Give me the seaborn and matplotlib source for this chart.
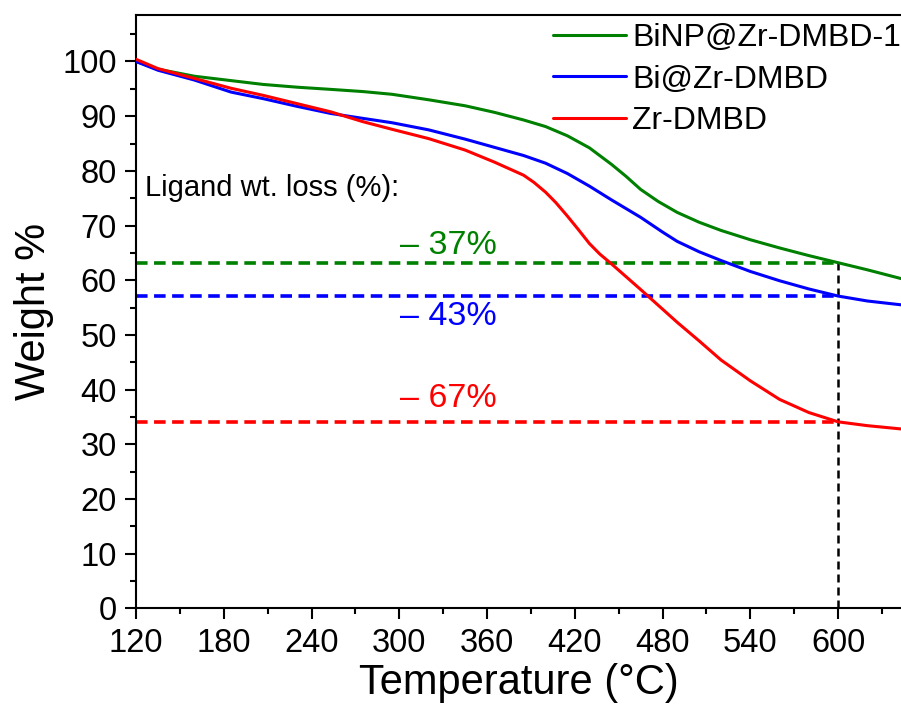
import numpy as np
import pandas as pd
import matplotlib
matplotlib.use("Agg")
import matplotlib.pyplot as plt
from matplotlib.ticker import MultipleLocator
import seaborn as sns

# ---- data ----
t_binp = [120, 135, 160, 185, 207, 230, 253, 275, 295, 320, 345, 365, 385, 400,
          415, 430, 445, 455, 465, 477, 490, 505, 520, 540, 560, 580, 600, 620, 643]
w_binp = [100.0, 98.6, 97.3, 96.5, 95.8, 95.3, 94.9, 94.5, 94.0, 93.0, 91.9, 90.7,
          89.3, 88.1, 86.4, 84.2, 81.2, 79.0, 76.6, 74.4, 72.4, 70.6, 69.1, 67.4,
          65.9, 64.5, 63.2, 61.9, 60.3]
t_bi = [120, 135, 160, 185, 207, 230, 253, 275, 295, 320, 345, 365, 385, 400,
        415, 430, 445, 465, 480, 490, 505, 520, 540, 560, 580, 600, 620, 643]
w_bi = [100.0, 98.4, 96.6, 94.4, 93.2, 91.8, 90.5, 89.6, 88.8, 87.5, 85.8, 84.3,
        82.8, 81.4, 79.5, 77.2, 74.7, 71.5, 68.8, 67.1, 65.2, 63.6, 61.6, 59.9,
        58.4, 57.1, 56.2, 55.5]
t_zr = [120, 135, 160, 185, 207, 230, 253, 275, 295, 320, 345, 365, 385, 392, 400,
        407, 415, 422, 430, 437, 445, 465, 490, 505, 520, 540, 560, 580, 600, 620, 643]
w_zr = [100.4, 98.7, 96.9, 95.1, 93.8, 92.3, 90.8, 89.0, 87.6, 85.9, 83.8, 81.6,
        79.2, 77.9, 76.1, 74.2, 71.7, 69.4, 66.7, 64.8, 63.0, 58.3, 52.3, 48.9,
        45.4, 41.6, 38.2, 35.8, 34.1, 33.4, 32.8]
series_names = ["BiNP@Zr-DMBD-1", "Bi@Zr-DMBD", "Zr-DMBD"]
series_colors = ["#008000", "#0000FF", "#FF0000"]
residual_levels = [63.1, 57.1, 34.1]
loss_labels = ["\u2013 37%", "\u2013 43%", "\u2013 67%"]
loss_label_y = [66.4, 53.3, 38.4]
ref_temp = 600
x_ticks = [120, 180, 240, 300, 360, 420, 480, 540, 600]
y_ticks = [0, 10, 20, 30, 40, 50, 60, 70, 80, 90, 100]

df = pd.concat([
    pd.DataFrame({"T": t, "W": w, "sample": name})
    for t, w, name in zip([t_binp, t_bi, t_zr], [w_binp, w_bi, w_zr], series_names)
], ignore_index=True)

sns.set_theme(style="ticks")
plt.rcParams["font.family"] = ["Liberation Sans", "DejaVu Sans"]
plt.rcParams["text.color"] = "black"
plt.rcParams["axes.labelcolor"] = "black"

fig = plt.figure(figsize=(9.01, 7.15), dpi=100)
ax = fig.add_axes([136 / 901, 1 - 608.3 / 715, (901 - 136) / 901, (608.3 - 15) / 715])

# reference lines
for lvl, col in zip(residual_levels, series_colors):
    ax.plot([x_ticks[0], ref_temp], [lvl, lvl], color=col, lw=2.6,
            dashes=(3.2, 1.8), zorder=1)
ax.plot([ref_temp, ref_temp], [0, residual_levels[0]], color="black", lw=1.8,
        dashes=(3.2, 2.0), zorder=1)

sns.lineplot(data=df, x="T", y="W", hue="sample", hue_order=series_names,
             palette=series_colors, linewidth=2.2, sort=False, estimator=None,
             ax=ax, zorder=3)

ax.set_xlim(120, 643)
ax.set_ylim(0, 108.5)
ax.set_xticks(x_ticks)
ax.set_yticks(y_ticks)
ax.xaxis.set_minor_locator(MultipleLocator(30))
ax.yaxis.set_minor_locator(MultipleLocator(5))
ax.tick_params(which="major", direction="out", length=8, width=1.5,
               labelsize=23.5, pad=6, color="black", labelcolor="black")
ax.tick_params(which="minor", direction="out", length=4, width=1.5, color="black")
for side in ["left", "bottom", "top"]:
    ax.spines[side].set_linewidth(1.5)
    ax.spines[side].set_color("black")
ax.spines["right"].set_visible(False)
ax.tick_params(top=False, right=False, which="both")

ax.set_xlabel("Temperature (\u00b0C)", fontsize=30, labelpad=3, color="black")
ax.set_ylabel("Weight %", fontsize=30, labelpad=6, color="black")

ax.text(126, 76.9, "Ligand wt. loss (%):", fontsize=21, ha="left", va="center",
        color="black")
for lab, yy, col in zip(loss_labels, loss_label_y, series_colors):
    ax.text(300.5, yy, lab, fontsize=24.5, color=col, ha="left", va="center")

handles, labels = ax.get_legend_handles_labels()
leg = ax.legend(handles, labels, loc="upper left",
                bbox_to_anchor=(553 / 901, 1 - 23 / 715),
                bbox_transform=fig.transFigure, frameon=False, fontsize=23,
                handlelength=2.3, handletextpad=0.18, labelspacing=0.36,
                borderpad=0, borderaxespad=0)
for txt in leg.get_texts():
    txt.set_color("black")

fig.savefig("out.png", dpi=100)
